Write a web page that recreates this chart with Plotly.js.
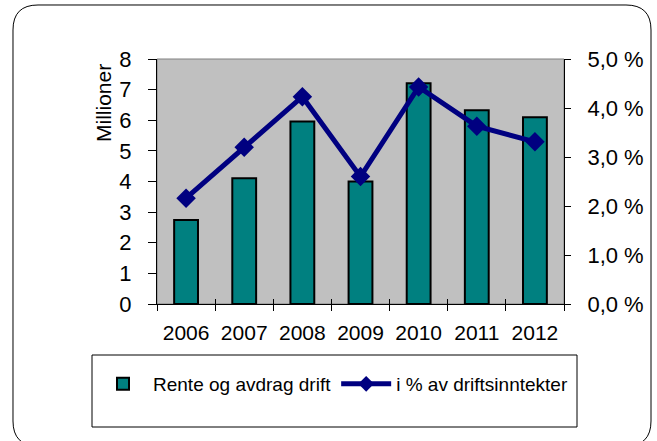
<!DOCTYPE html>
<html>
<head>
<meta charset="utf-8">
<script src="https://cdn.plot.ly/plotly-3.0.1.min.js"></script>
<style>html,body{margin:0;padding:0;background:#fff;}#chart{width:657px;height:441px;}</style>
</head>
<body>
<div id="chart"></div>
<script>
// Data
const years = ['2006', '2007', '2008', '2009', '2010', '2011', '2012'];
const renteOgAvdragDrift = [2.74, 4.11, 5.96, 4.00, 7.21, 6.33, 6.10]; // millioner
const iProsentAvDriftsinntekter = [2.16, 3.20, 4.23, 2.60, 4.43, 3.63, 3.31]; // %
const barName = 'Rente og avdrag drift';
const lineName = 'i % av driftsinntekter';
const yTitle = 'Millioner';

// Layout geometry (pixels)
const W = 657, H = 441;
const M = {l: 157, r: 93, t: 59, b: 137};
const PW = W - M.l - M.r, PH = H - M.t - M.b;
const px = x => (x - M.l) / PW;
const py = y => (H - M.b - y) / PH;

function roundedRectPath(x0, y0, x1, y1, r) {
  const P = (x, y) => px(x).toFixed(5) + ',' + py(y).toFixed(5);
  return 'M' + P(x0 + r, y0) + ' L' + P(x1 - r, y0) + ' Q' + P(x1, y0) + ' ' + P(x1, y0 + r) +
    ' L' + P(x1, y1 - r) + ' Q' + P(x1, y1) + ' ' + P(x1 - r, y1) +
    ' L' + P(x0 + r, y1) + ' Q' + P(x0, y1) + ' ' + P(x0, y1 - r) +
    ' L' + P(x0, y0 + r) + ' Q' + P(x0, y0) + ' ' + P(x0 + r, y0) + ' Z';
}

const font = 'Liberation Sans, Arial, sans-serif';

const traces = [
  {
    type: 'bar', name: barName, x: years, y: renteOgAvdragDrift,
    xaxis: 'x', yaxis: 'y', width: 0.41,
    marker: {color: '#008080', line: {color: '#000000', width: 2}}
  },
  {
    type: 'scatter', mode: 'lines+markers', name: lineName, x: years, y: iProsentAvDriftsinntekter,
    xaxis: 'x2', yaxis: 'y2',
    line: {color: '#000080', width: 5},
    marker: {symbol: 'diamond', size: 15, color: '#000080'}
  }
];

const layout = {
  width: W, height: H,
  margin: M,
  paper_bgcolor: '#ffffff',
  plot_bgcolor: '#c0c0c0',
  separators: ', ',
  font: {family: font, size: 21, color: '#000'},
  showlegend: true,
  legend: {
    orientation: 'h', x: px(93), xanchor: 'left', y: py(384), yanchor: 'middle',
    bgcolor: 'rgba(0,0,0,0)', borderwidth: 0, itemwidth: 50, itemsizing: 'constant',
    font: {family: font, size: 19, color: '#000'}, traceorder: 'normal'
  },
  xaxis: {
    type: 'category', categoryarray: years, range: [-0.5, 6.5],
    showline: true, linecolor: '#000', linewidth: 1,
    ticks: 'outside', ticklen: 6, tickcolor: '#000', tickson: 'boundaries',
    ticklabelstandoff: 10,
    showgrid: false, zeroline: false, fixedrange: true,
    tickfont: {family: font, size: 21, color: '#000'}
  },
  xaxis2: {
    type: 'category', categoryarray: years, range: [-0.5, 6.5],
    overlaying: 'x', anchor: 'y2', side: 'bottom',
    showline: false, ticks: 'inside', ticklen: 5, tickcolor: '#000', tickson: 'boundaries',
    showticklabels: false, showgrid: false, zeroline: false
  },
  yaxis: {
    range: [0, 8], dtick: 1, showline: true, linecolor: '#000', linewidth: 1,
    ticks: 'outside', ticklen: 8, tickcolor: '#000', ticklabelstandoff: 12,
    showgrid: false, zeroline: false,
    tickfont: {family: font, size: 22, color: '#000'}
  },
  yaxis2: {
    range: [0, 5], dtick: 1, overlaying: 'y', side: 'right', anchor: 'x',
    tickformat: '.1f', ticksuffix: ' %',
    showline: true, linecolor: '#000', linewidth: 1,
    ticks: 'outside', ticklen: 6, tickcolor: '#000', ticklabelstandoff: 12,
    showgrid: false, zeroline: false,
    tickfont: {family: font, size: 22, color: '#000'}
  },
  annotations: [
    {
      text: yTitle, xref: 'paper', yref: 'paper', x: px(103), y: py(103),
      xanchor: 'center', yanchor: 'middle', textangle: -90, showarrow: false,
      font: {family: font, size: 21, color: '#000'}
    }
  ],
  shapes: [
    {type: 'rect', xref: 'paper', yref: 'paper', x0: 0, x1: 1, y0: 0, y1: 1,
     line: {color: '#808080', width: 1}, layer: 'below'},
    {type: 'rect', xref: 'paper', yref: 'paper', x0: px(92), x1: px(577), y0: py(427), y1: py(355),
     line: {color: '#000', width: 1}, fillcolor: 'rgba(0,0,0,0)', layer: 'above'},
    {type: 'path', xref: 'paper', yref: 'paper', path: roundedRectPath(13, 5, 651, 446, 25),
     line: {color: '#000', width: 1}, fillcolor: 'rgba(0,0,0,0)', layer: 'above'}
  ]
};

Plotly.newPlot('chart', traces, layout, {staticPlot: true, displayModeBar: false});
</script>
</body>
</html>
